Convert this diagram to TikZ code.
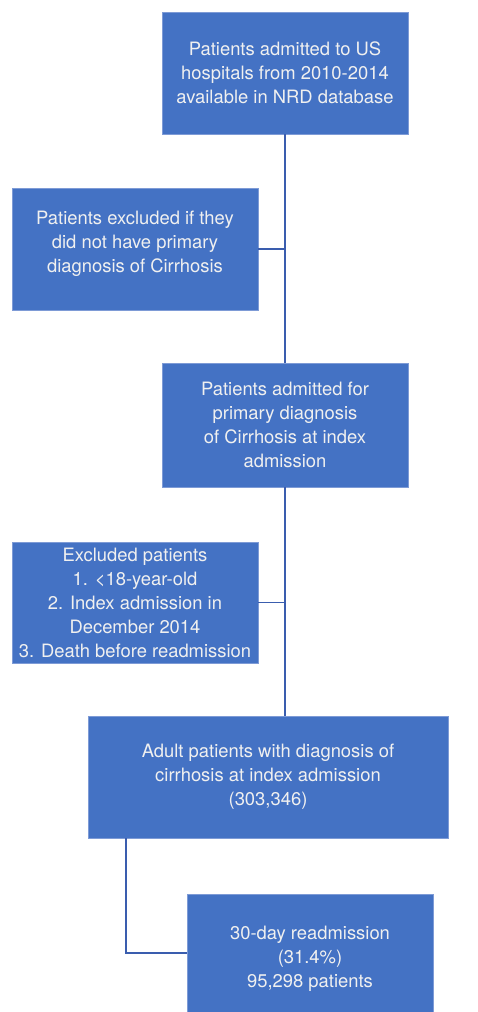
\documentclass[tikz,border=0pt]{standalone}
\usepackage{fontspec}
\setmainfont{TeX Gyre Heros}
\usetikzlibrary{positioning}
\definecolor{boxblue}{HTML}{4472C4}
\definecolor{boxedge}{HTML}{7E9BD6}
\definecolor{linkblue}{HTML}{3A5DAE}

\begin{document}
\begin{tikzpicture}[x=1pt, y=1pt,
  flowbox/.style={rectangle, fill=boxblue, draw=boxedge, line width=0.6pt,
    text=white!94!black, align=center, inner sep=0pt,
    minimum width=246pt, minimum height=122pt,
    font=\fontsize{18.4}{24}\selectfont},
  link/.style={draw=linkblue, line width=1.8pt}]

  \useasboundingbox (0,0) rectangle (477,-1012);

  \newcommand\XM{285};
  \newcommand\XL{135};

  \node[flowbox] (nrd) at (\XM, -73)
    {Patients admitted to US\\hospitals from 2010-2014\\available in NRD database};
  \node[flowbox] (excla) at (\XL, -249)
    {Patients excluded if they\\did not have primary\\diagnosis of Cirrhosis\\[-10pt]};
  \node[flowbox, minimum height=124pt] (primary) at (\XM, -425)
    {Patients admitted for\\primary diagnosis\\of Cirrhosis at index\\admission};
  \node[flowbox, minimum height=121pt] (exclb) at (\XL, -602.5)
    {Excluded patients\\1. <18-year-old\\2. Index admission in\\December 2014\\3. Death before readmission};
  \node[flowbox, minimum width=360pt] (adult) at (268, -777)
    {Adult patients with diagnosis of\\cirrhosis at index admission\\(303,346)};
  \node[flowbox, minimum height=118pt] (readm) at (310, -953)
    {30-day readmission\\(31.4\%)\\95,298 patients\\[-32pt]};

  \coordinate (turn) at (126, -842);

  \draw[link] (nrd.south) -- (primary.north);
  \draw[link] (excla.east) -- (excla.east -| nrd.south);
  \draw[link] (primary.south) -- (adult.north -| primary.south);
  \draw[link] (exclb.east) -- (exclb.east -| primary.south);
  \draw[link] (adult.south -| turn) |- (readm.west);

\end{tikzpicture}
\end{document}
